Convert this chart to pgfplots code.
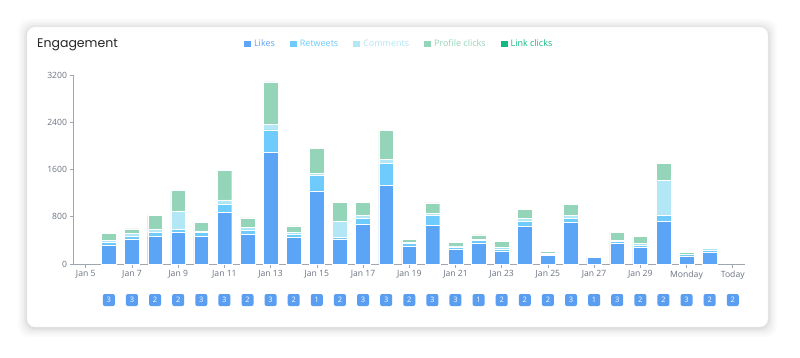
\documentclass[border=0pt]{standalone}
\usepackage{pgfplots}
\usepackage{pgfplotstable}
\pgfplotsset{compat=1.18}
\usepackage{fontspec}
\setmainfont{Open Sans}
\newfontfamily\titlefont{Poppins}
\definecolor{cLikes}{HTML}{5CA4F6}
\definecolor{cRet}{HTML}{6ECBFB}
\definecolor{cCom}{HTML}{B3E7F5}
\definecolor{cProf}{HTML}{94D5B9}
\definecolor{cLink}{HTML}{12B981}
\definecolor{cBadge}{HTML}{5A9EF2}
\definecolor{cTick}{HTML}{6B7280}
\definecolor{cAxis}{HTML}{A0A6B0}

\pgfplotstableread{
x likes retweets comments profile link
1 322 45 33 119 0
2 423 51 40 79 0
3 468 62 63 231 0
4 530 51 311 350 0
5 463 67 29 141 0
6 869 147 68 502 0
7 502 74 45 158 0
8 1885 384 101 712 0
9 446 62 23 113 0
10 1236 265 29 428 0
11 418 34 265 327 0
12 677 91 62 208 0
13 1332 372 68 486 0
14 293 51 17 51 0
15 660 158 34 181 0
16 248 40 17 67 0
17 356 39 28 68 0
18 214 40 28 107 0
19 638 84 46 163 0
20 141 28 17 28 0
21 700 73 51 186 0
22 113 17 11 23 0
23 350 39 17 125 0
24 282 40 28 113 0
25 722 96 599 282 0
26 130 28 11 34 0
27 192 45 23 22 0
}\engdata

\pgfplotstableread{
x y n
1 -610 3
2 -610 3
3 -610 2
4 -610 2
5 -610 3
6 -610 3
7 -610 2
8 -610 3
9 -610 2
10 -610 1
11 -610 2
12 -610 3
13 -610 3
14 -610 2
15 -610 3
16 -610 3
17 -610 1
18 -610 2
19 -610 2
20 -610 2
21 -610 3
22 -610 1
23 -610 3
24 -610 2
25 -610 2
26 -610 3
27 -610 2
28 -610 2
}\badgedata

\begin{document}
\begin{tikzpicture}
\fill[white] (0,0) rectangle (800pt,358pt);
\useasboundingbox (0,0) rectangle (800pt,358pt);
% card shadow
\foreach \d/\o in {9/0.015,7/0.02,5/0.025,3/0.03,1.5/0.035}{
  \fill[black,opacity=\o,rounded corners=10pt] (27pt-\d pt,31pt-\d pt-1pt) rectangle (768pt+\d pt,331pt+\d pt-1pt);
}
\fill[white,draw=black!6,rounded corners=8pt] (27pt,31pt) rectangle (768pt,331pt);
\node[anchor=west,font=\titlefont\fontsize{12.5}{14}\selectfont,text=black!85,inner sep=0pt] at (37pt,313pt) {Engagement};

\begin{axis}[
  at={(73.5pt,94pt)}, anchor=south west,
  scale only axis, width=671.5pt, height=189pt,
  xmin=-0.53, xmax=28.53, ymin=0, ymax=3200,
  ybar stacked, bar width=14.7pt,
  axis lines*=left,
  axis line style={cAxis, line width=0.6pt},
  tick style={cAxis, line width=0.6pt},
  tick align=outside, major tick length=4pt,
  xtick={0,2,...,28},
  xticklabels={Jan 5,Jan 7,Jan 9,Jan 11,Jan 13,Jan 15,Jan 17,Jan 19,Jan 21,Jan 23,Jan 25,Jan 27,Jan 29,Monday,Today},
  ytick={0,800,1600,2400,3200},
  /pgf/number format/assume math mode=true,
  /pgf/number format/1000 sep={},
  ticklabel style={font=\fontsize{8.6}{10}\selectfont, text=cTick},
  xticklabel style={yshift=1pt},
  yticklabel style={xshift=1pt},
  clip=false,
  legend style={at={(0.485,1.164)}, anchor=center, draw=none, fill=none,
    legend columns=-1, font=\fontsize{9}{10}\selectfont,
    /tikz/every even column/.append style={column sep=13pt},
    /tikz/every odd column/.append style={column sep=1pt}},
  legend image code/.code={\fill[#1,draw=none] (0pt,-3.3pt) rectangle (7pt,3.3pt);},
]
\addplot[fill=cLikes, draw=white, line width=0.4pt] table[x=x,y=likes] {\engdata};
\addplot[fill=cRet, draw=white, line width=0.4pt] table[x=x,y=retweets] {\engdata};
\addplot[fill=cCom, draw=white, line width=0.4pt] table[x=x,y=comments] {\engdata};
\addplot[fill=cProf, draw=white, line width=0.4pt] table[x=x,y=profile] {\engdata};
\addplot[fill=cLink, draw=none] table[x=x,y=link] {\engdata};
\legend{\textcolor{cLikes}{Likes},\textcolor{cRet}{Retweets},\textcolor{cCom}{Comments},\textcolor{cProf}{Profile clicks},\textcolor{cLink}{Link clicks}}
\end{axis}

\begin{axis}[
  at={(73.5pt,94pt)}, anchor=south west,
  scale only axis, width=671.5pt, height=189pt,
  xmin=-0.53, xmax=28.53, ymin=0, ymax=3200,
  hide axis, clip=false,
]
\addplot[only marks, mark=none,
  point meta=explicit symbolic,
  nodes near coords,
  nodes near coords align={anchor=center},
  every node near coord/.append style={anchor=center, fill=cBadge, rounded corners=2pt,
    text=white, font=\fontsize{7.5}{8}\selectfont, minimum width=12pt, minimum height=12pt, inner sep=0pt},
] table[x=x,y=y,meta=n] {\badgedata};
\end{axis}
\end{tikzpicture}
\end{document}
